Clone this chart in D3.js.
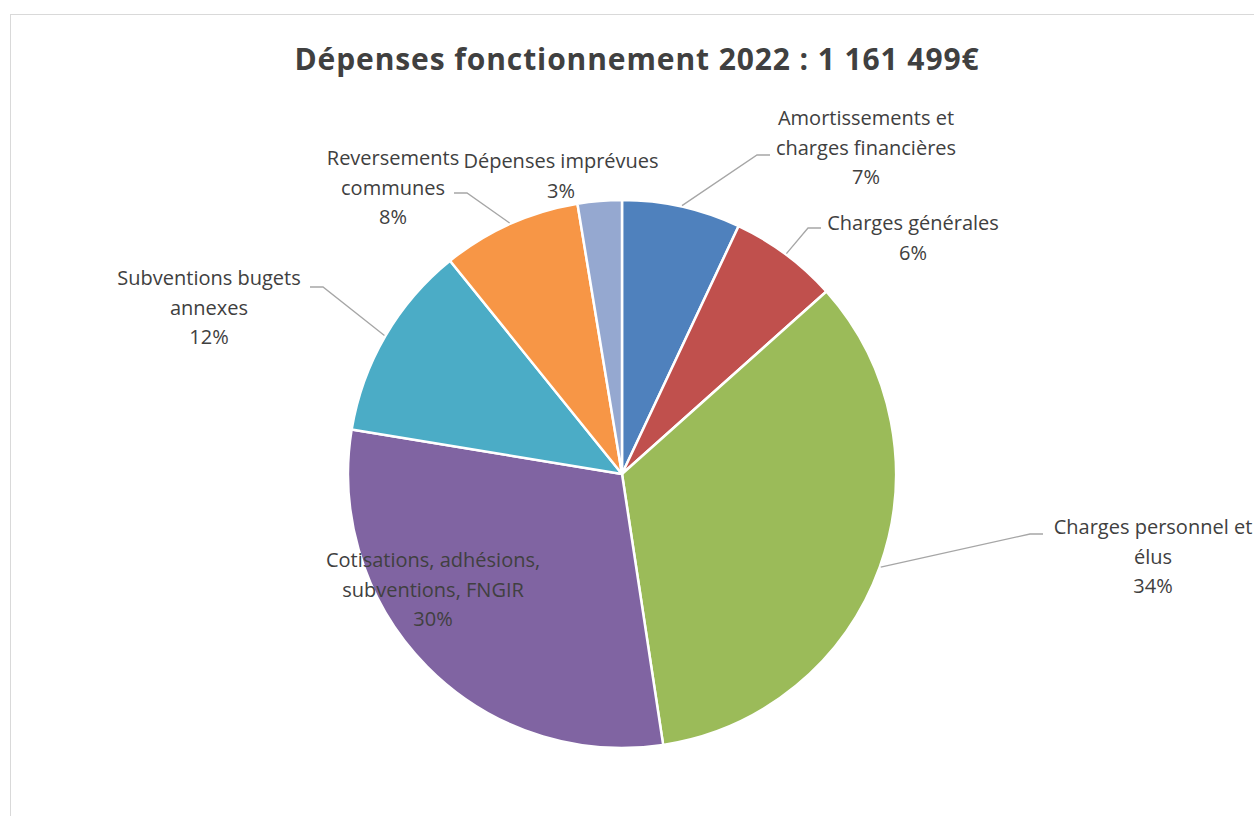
<!DOCTYPE html>
<html lang="fr">
<head>
<meta charset="utf-8">
<script src="https://cdn.jsdelivr.net/npm/d3@7"></script>
<style>
    html, body { margin: 0; padding: 0; background: #fff; }
    svg { display: block; font-family: "Open Sans", "Noto Sans", sans-serif; }
</style>
</head>
<body>
<div id="chart"></div>
<script>
// ─── Data ───
const TITLE = 'Dépenses fonctionnement 2022 : 1 161 499€';
const categories = [
    'Amortissements et charges financières',
    'Charges générales',
    'Charges personnel et élus',
    'Cotisations, adhésions, subventions, FNGIR',
    'Subventions bugets annexes',
    'Reversements communes',
    'Dépenses imprévues'
];
// share of total, in percent
const shares = [7.0, 6.4, 34.2, 30.0, 11.6, 8.2, 2.6];
// label lines as wrapped in the reference
const labelLines = [
    ['Amortissements et', 'charges financières'],
    ['Charges générales'],
    ['Charges personnel et', 'élus'],
    ['Cotisations, adhésions,', 'subventions, FNGIR'],
    ['Subventions bugets', 'annexes'],
    ['Reversements', 'communes'],
    ['Dépenses imprévues']
];

const colors = ['#4f81bd', '#c0504d', '#9bbb59', '#8064a2', '#4bacc6', '#f79646', '#95a8d0'];

// ─── Layout ───
const W = 1254, H = 816;
const cx = 622, cy = 474, R = 274;
const LINE_H = 29.5;

// label block placement relative to pie centre: [x of text centre, y of first line centre]
// elbow = where the leader turns horizontal (null → no leader line)
const labelLayout = [
    { x: 244, y: -356, elbow: [135, -319], side: 1 },
    { x: 291, y: -251, elbow: [186, -246], side: 1 },
    { x: 531, y: 53,   elbow: [408, 60],   side: 1 },
    { x: -189, y: 86,  elbow: null },
    { x: -413, y: -196, elbow: [-299, -187], side: -1 },
    { x: -229, y: -316, elbow: [-155, -281], side: -1 },
    { x: -61, y: -313, elbow: null }
];

const svg = d3.select('#chart').append('svg')
    .attr('width', W)
    .attr('height', H)
    .attr('viewBox', `0 0 ${W} ${H}`);

// chart area border
svg.append('rect')
    .attr('x', 10.5).attr('y', 14.5)
    .attr('width', W + 20).attr('height', H + 20)
    .attr('fill', '#fff')
    .attr('stroke', '#d9d9d9')
    .attr('stroke-width', 1);

svg.append('text')
    .attr('x', 637).attr('y', 70)
    .attr('text-anchor', 'middle')
    .attr('fill', '#404040')
    .style('font-size', '30px')
    .style('font-weight', 700)
    .style('letter-spacing', '0.9px')
    .text(TITLE);

const data = categories.map((name, i) => ({ name, value: shares[i], i }));

const pie = d3.pie()
    .sort(null)
    .value(d => d.value);
const arcs = pie(data);

const arc = d3.arc().innerRadius(0).outerRadius(R);

const g = svg.append('g').attr('transform', `translate(${cx},${cy})`);

g.selectAll('path.slice')
    .data(arcs)
    .join('path')
    .attr('class', 'slice')
    .attr('d', arc)
    .attr('fill', d => colors[d.data.i])
    .attr('stroke', '#fff')
    .attr('stroke-width', 2.5)
    .attr('stroke-linejoin', 'round');

// ─── Leader lines ───
const leaders = arcs.filter(d => labelLayout[d.data.i].elbow);
g.selectAll('path.leader')
    .data(leaders)
    .join('path')
    .attr('class', 'leader')
    .attr('fill', 'none')
    .attr('stroke', '#a6a6a6')
    .attr('stroke-width', 1.3)
    .attr('d', d => {
        const L = labelLayout[d.data.i];
        const mid = (d.startAngle + d.endAngle) / 2;
        const sx = Math.sin(mid) * (R + 1), sy = -Math.cos(mid) * (R + 1);
        const [ex, ey] = L.elbow;
        return `M${sx},${sy}L${ex},${ey}L${ex + L.side * 13},${ey}`;
    });

// ─── Labels ───
const labels = g.selectAll('text.lbl')
    .data(arcs)
    .join('text')
    .attr('class', 'lbl')
    .attr('text-anchor', 'middle')
    .attr('fill', '#404040')
    .style('font-size', '20px');

labels.each(function(d) {
    const L = labelLayout[d.data.i];
    const lines = labelLines[d.data.i].concat([Math.round(d.data.value) + '%']);
    const t = d3.select(this);
    lines.forEach((ln, k) => {
        t.append('tspan')
            .attr('x', L.x)
            .attr('y', L.y + k * LINE_H)
            .attr('dy', '0.35em')
            .text(ln);
    });
});
</script>
</body>
</html>
